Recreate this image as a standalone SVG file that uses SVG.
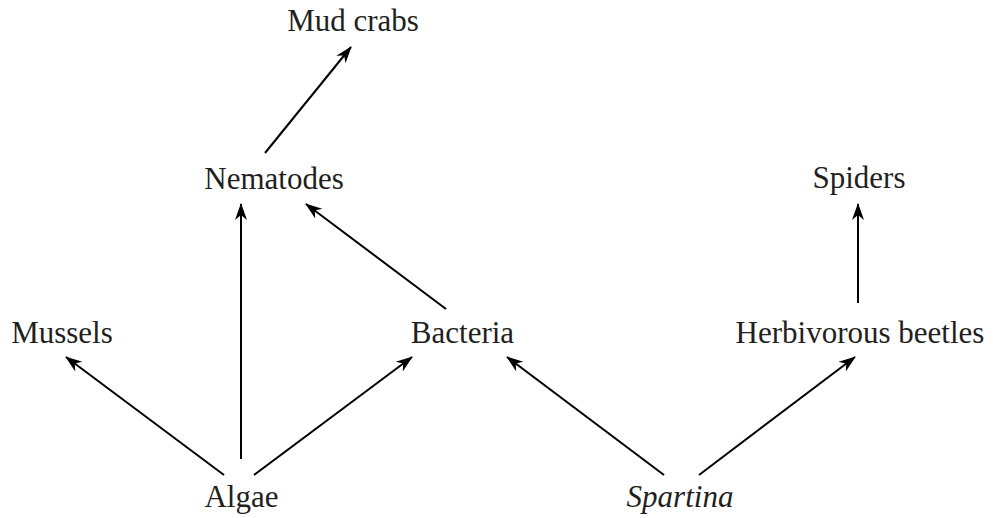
<svg xmlns="http://www.w3.org/2000/svg" width="993" height="518" viewBox="0 0 993 518">
<style>
.lbl{font-family:"Liberation Serif","Times New Roman",serif;font-size:31px;fill:#231f20;text-anchor:middle}
.it{font-style:italic}
.edge{stroke:#000;stroke-width:2;fill:none;marker-end:url(#arr)}
</style>
<defs>
<marker id="arr" markerUnits="userSpaceOnUse" markerWidth="18" markerHeight="14" viewBox="0 0 18 14" refX="16" refY="7" orient="auto">
<path d="M0,1 L17,7 L0,13 L5,7 z" fill="#000"/>
</marker>
</defs>
<rect width="993" height="518" fill="#fff"/>
<g id="connectors">
<line class="edge" x1="265" y1="153" x2="351" y2="47"/>
<line class="edge" x1="224" y1="475" x2="66" y2="357"/>
<line class="edge" x1="241" y1="459" x2="241" y2="204"/>
<line class="edge" x1="254" y1="475" x2="412" y2="357"/>
<line class="edge" x1="446" y1="309" x2="306" y2="204"/>
<line class="edge" x1="664" y1="475" x2="507" y2="357"/>
<line class="edge" x1="699" y1="475" x2="855" y2="357"/>
<line class="edge" x1="858" y1="303" x2="858" y2="204"/>
</g>
<g id="mud-crabs"><text class="lbl" x="353" y="31">Mud crabs</text></g>
<g id="nematodes"><text class="lbl" x="274" y="189">Nematodes</text></g>
<g id="spiders"><text class="lbl" x="859" y="188">Spiders</text></g>
<g id="mussels"><text class="lbl" x="62" y="343">Mussels</text></g>
<g id="bacteria"><text class="lbl" x="462.5" y="343">Bacteria</text></g>
<g id="herbivorous-beetles"><text class="lbl" x="860" y="343">Herbivorous beetles</text></g>
<g id="algae"><text class="lbl" x="241.5" y="507">Algae</text></g>
<g id="spartina"><text class="lbl it" x="680" y="507">Spartina</text></g>
</svg>
